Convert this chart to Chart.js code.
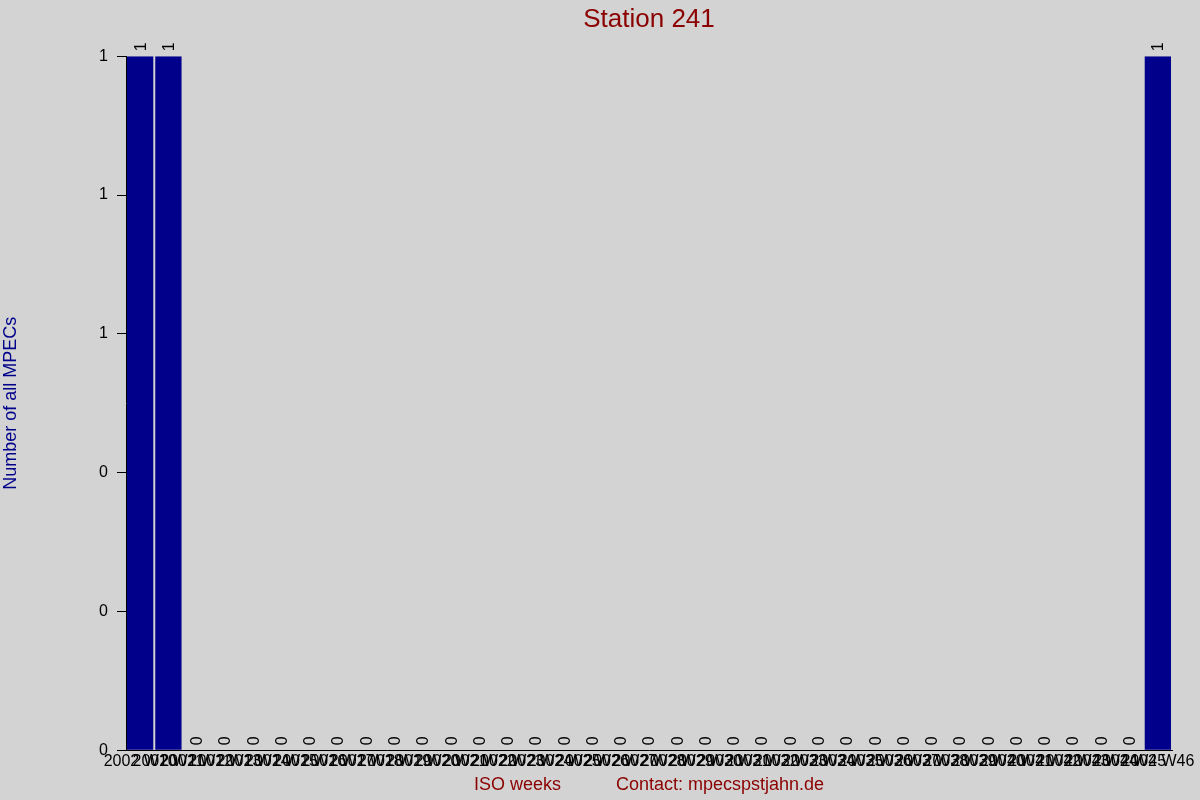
<!DOCTYPE html>
<html>
<head>
<meta charset="utf-8">
<script src="https://cdn.jsdelivr.net/npm/chart.js@4"></script>
<style>
  html, body { margin: 0; padding: 0; background: #d3d3d3; }
  #wrap { width: 1200px; height: 800px; }
</style>
</head>
<body>
<div id="wrap"><canvas id="chart" width="1200" height="800"></canvas></div>
<script>
// ISO weeks 2002 W10 .. 2002 W46
const weeks = [
  "2002 W10", "2002 W11", "2002 W12", "2002 W13", "2002 W14", "2002 W15", "2002 W16",
  "2002 W17", "2002 W18", "2002 W19", "2002 W20", "2002 W21", "2002 W22", "2002 W23",
  "2002 W24", "2002 W25", "2002 W26", "2002 W27", "2002 W28", "2002 W29", "2002 W30",
  "2002 W31", "2002 W32", "2002 W33", "2002 W34", "2002 W35", "2002 W36", "2002 W37",
  "2002 W38", "2002 W39", "2002 W40", "2002 W41", "2002 W42", "2002 W43", "2002 W44",
  "2002 W45", "2002 W46"
];
const mpecs = [
  1, 1, 0, 0, 0, 0, 0, 0, 0, 0, 0, 0, 0, 0, 0, 0, 0, 0, 0,
  0, 0, 0, 0, 0, 0, 0, 0, 0, 0, 0, 0, 0, 0, 0, 0, 0, 1
];

const FONT = "'Liberation Sans', Arial, sans-serif";

// rotated value labels above each bar
const valueLabels = {
  id: "valueLabels",
  afterDatasetsDraw(chart) {
    const ctx = chart.ctx;
    const meta = chart.getDatasetMeta(0);
    ctx.save();
    ctx.font = "16px " + FONT;
    ctx.fillStyle = "#000000";
    ctx.textAlign = "left";
    ctx.textBaseline = "middle";
    meta.data.forEach((bar, i) => {
      ctx.save();
      ctx.translate(bar.x + 1, bar.y - 5);
      ctx.rotate(-Math.PI / 2);
      ctx.fillText(String(mpecs[i]), 0, 0);
      ctx.restore();
    });
    ctx.restore();
  }
};

new Chart(document.getElementById("chart"), {
  type: "bar",
  data: {
    labels: weeks,
    datasets: [{
      data: mpecs,
      backgroundColor: "#00008b",
      borderWidth: 0,
      barPercentage: 0.93,
      categoryPercentage: 1.0
    }]
  },
  options: {
    responsive: false,
    animation: false,
    layout: { padding: { left: 0, right: 28, top: 0, bottom: 2 } },
    plugins: {
      legend: { display: false },
      tooltip: { enabled: false },
      title: {
        display: true,
        text: "Station 241",
        color: "#8b0000",
        fullSize: false,
        font: { family: FONT, size: 26, weight: "normal" },
        padding: { top: 4, bottom: 21 }
      }
    },
    scales: {
      x: {
        offset: true,
        border: { color: "#000000", width: 1 },
        grid: { display: false, drawTicks: false },
        ticks: {
          color: "#000000",
          autoSkip: false,
          maxRotation: 0,
          minRotation: 0,
          padding: 2,
          font: { family: FONT, size: 16 }
        },
        title: {
          display: true,
          text: "ISO weeks           Contact: mpecspstjahn.de",
          color: "#8b0000",
          font: { family: FONT, size: 18 },
          padding: { top: 1, bottom: 2 }
        }
      },
      y: {
        min: 0,
        max: 1,
        border: { color: "#000000", width: 1 },
        grid: { drawOnChartArea: false, drawTicks: true, tickLength: 9, color: "#000000" },
        ticks: {
          stepSize: 0.2,
          color: "#000000",
          padding: 9,
          font: { family: FONT, size: 16 },
          callback: v => Math.round(v).toString()
        },
        title: {
          display: true,
          text: "Number of all MPECs",
          color: "#00008b",
          font: { family: FONT, size: 18 },
          padding: { top: 0, bottom: 0 }
        },
        afterFit(scale) { scale.width = 126; }
      }
    }
  },
  plugins: [valueLabels]
});
</script>
</body>
</html>
